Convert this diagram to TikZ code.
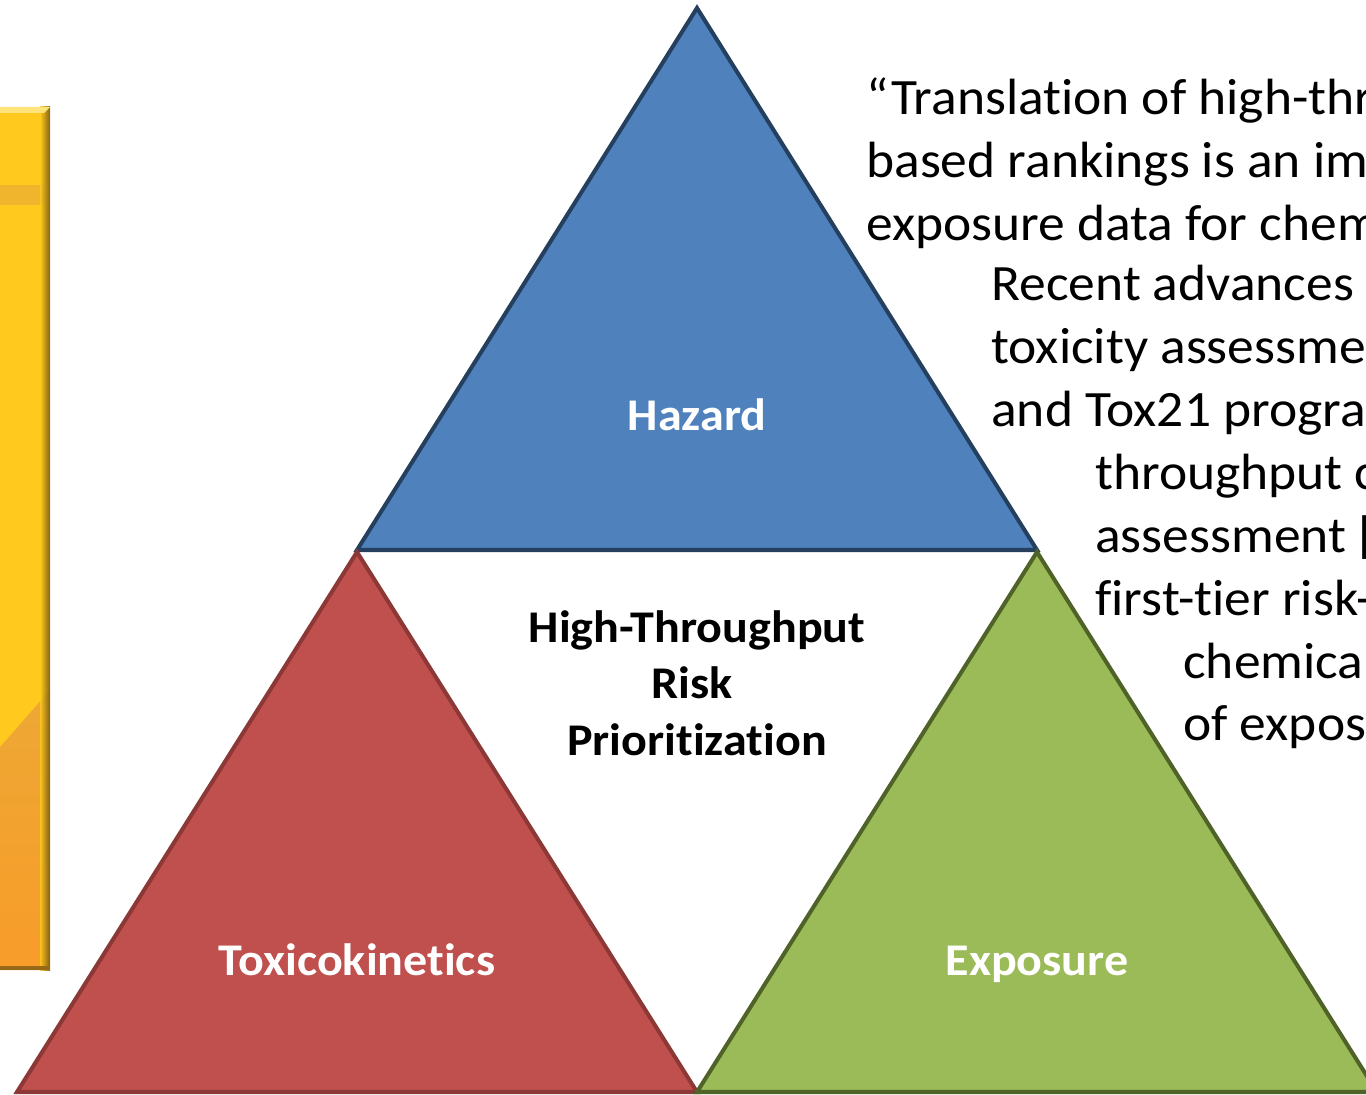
\documentclass[tikz,border=0pt]{standalone}
\usepackage{fontspec}
\setmainfont[Ligatures=NoCommon]{Carlito}
\usepackage{xcolor}
\usepackage{tikz}
\definecolor{hazfill}{HTML}{4F81BD}
\definecolor{hazedge}{HTML}{25405F}
\definecolor{tkfill}{HTML}{C0504D}
\definecolor{tkedge}{HTML}{8C3836}
\definecolor{expfill}{HTML}{9BBB59}
\definecolor{expedge}{HTML}{4F6228}
\definecolor{barhi}{HTML}{FFC91E}
\definecolor{barmid}{HTML}{EDA834}
\definecolor{barlo}{HTML}{F89C2A}
\definecolor{barlite}{HTML}{FFE27A}
\definecolor{barband}{HTML}{E9A838}
\definecolor{barrim}{HTML}{6E5210}
\newcommand{\wide}[2]{\scalebox{#1}[1]{#2}}
\tikzset{
  tri/.style={line width=2.3pt, line join=miter},
  corner/.style={anchor=base, text=white, font=\fontsize{25.8}{31}\selectfont\bfseries},
  hub/.style={anchor=base, text=black, font=\fontsize{25.8}{31}\selectfont\bfseries},
  quote/.style={anchor=base west, inner sep=0pt, text=black, font=\fontsize{29}{35}\selectfont}
}
\begin{document}
\begin{tikzpicture}[x=0.02cm, y=-0.02cm]
  \useasboundingbox (0,0) rectangle (1366,1095);
  \clip (0,0) rectangle (1366,1095);

  % bar on the left, mostly off the page
  \fill[barhi] (-20,107) rectangle (50,970);
  \shade[top color=barmid, bottom color=barlo] (-20,770) -- (50,690) -- (50,970) -- (-20,970) -- cycle;
  \fill[barband, opacity=0.6] (-20,185) rectangle (46,205);
  \shade[left color=barhi, right color=barrim, opacity=0.85] (40,107) rectangle (50,970);
  \fill[barlite] (-20,107) -- (50,107) -- (44,113) -- (-20,113) -- cycle;
  \fill[barrim!70!barlo] (-20,966) rectangle (50,970);

  % the three corners
  \coordinate (hzT) at (697,8);
  \coordinate (hzL) at (357,550);
  \coordinate (hzR) at (1037,550);
  \coordinate (tkT) at (357,552);
  \coordinate (tkL) at (17,1092);
  \coordinate (tkR) at (697,1092);
  \coordinate (exT) at (1037,552);
  \coordinate (exL) at (697,1092);
  \coordinate (exR) at (1377,1092);

  \draw[tri, draw=hazedge, fill=hazfill] (hzT) -- (hzL) -- (hzR) -- cycle;
  \draw[tri, draw=tkedge, fill=tkfill] (tkT) -- (tkL) -- (tkR) -- cycle;
  \draw[tri, draw=expedge, fill=expfill] (exT) -- (exL) -- (exR) -- cycle;

  \node[corner] (hazard) at (697,430) {\wide{1.06}{Hazard}};
  \node[corner] (tk) at (357,975) {\wide{1.06}{Toxicokinetics}};
  \node[corner] (expo) at (1037,975) {\wide{1.06}{Exposure}};

  \node[hub] (hub1) at (697,642) {\wide{1.06}{High-Throughput}};
  \node[hub] (hub2) at (692,698) {\wide{1.06}{Risk}};
  \node[hub] (hub3) at (697,755) {\wide{1.06}{Prioritization}};

  % quotation, running off the right edge
  \node[quote] (q1) at (866,114) {\wide{1.05}{“Translation of high-thr}};
  \node[quote] (q2) at (866,177) {\wide{1.05}{based rankings is an im}};
  \node[quote] (q3) at (866,240) {\wide{1.05}{exposure data for chem}};
  \node[quote] (q4) at (991,300) {\wide{1.05}{Recent advances}};
  \node[quote] (q5) at (991,363) {\wide{1.05}{toxicity assessme}};
  \node[quote] (q6) at (991,426) {\wide{1.05}{and Tox21 progra}};
  \node[quote] (q7) at (1095,489) {\wide{1.05}{throughput c}};
  \node[quote] (q8) at (1095,552) {\wide{1.05}{assessment [}};
  \node[quote] (q9) at (1095,615) {\wide{1.05}{first-tier risk-}};
  \node[quote] (q10) at (1183,678) {\wide{1.05}{chemica}};
  \node[quote] (q11) at (1183,740) {\wide{1.05}{of expos}};
\end{tikzpicture}
\end{document}
